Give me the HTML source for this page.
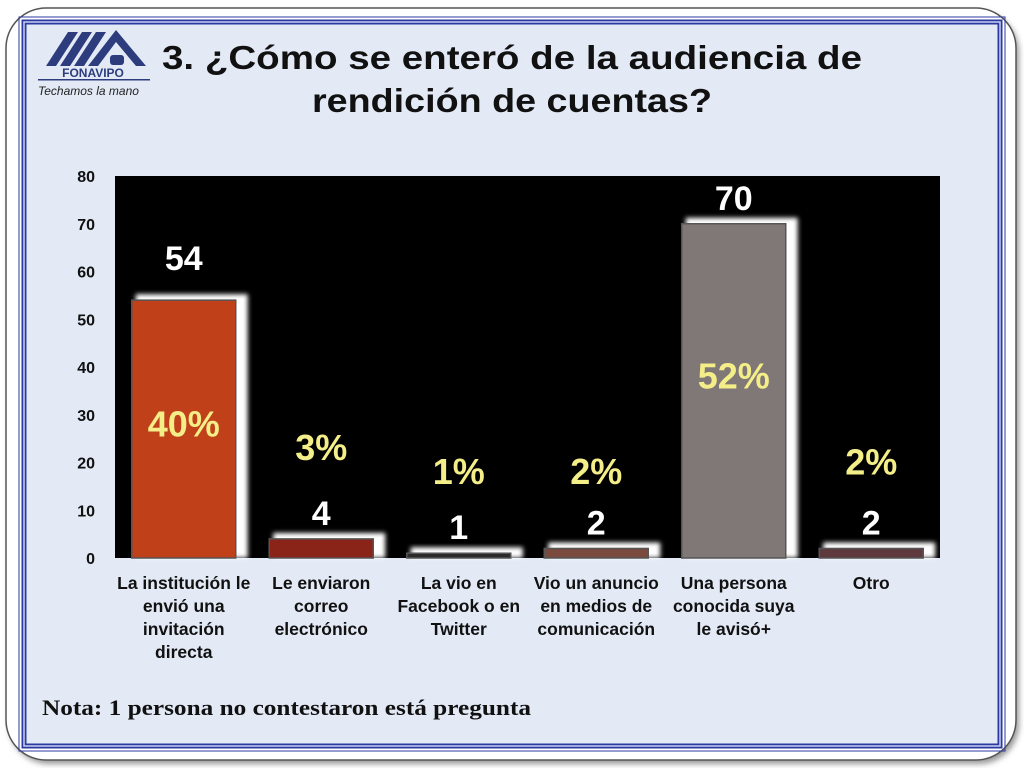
<!DOCTYPE html>
<html><head><meta charset="utf-8"><style>
body{margin:0;width:1024px;height:768px;background:#fff;overflow:hidden;font-family:"Liberation Sans",sans-serif}
</style></head><body>
<svg id="s" width="1024" height="768" xmlns="http://www.w3.org/2000/svg">
<defs>
<filter id="glow" x="-30%" y="-30%" width="160%" height="160%"><feGaussianBlur stdDeviation="2.5"/></filter>
<filter id="sh" x="-5%" y="-5%" width="110%" height="110%"><feGaussianBlur stdDeviation="3"/></filter>
</defs>
<rect x="9" y="12" width="1010" height="752" rx="40" fill="#999" filter="url(#sh)"/>
<rect x="6" y="8" width="1010" height="752" rx="40" fill="#fff" stroke="#555" stroke-width="1.5"/>
<rect x="24" y="22" width="976" height="724" fill="#e3eaf6" stroke="#2a3aa0" stroke-width="5"/>
<rect x="24" y="22" width="976" height="724" fill="none" stroke="#c8d0f0" stroke-width="1.5"/>
<rect x="19" y="17" width="986" height="734" fill="none" stroke="#2a3aa0" stroke-width="1"/>
<g>
<path d="M46 66 L68 32 L78 32 L56 66Z M60 66 L82 32 L92 32 L70 66Z M74 66 L96 32 L106 32 L84 66Z" fill="#2c3c7c"/>
<path d="M88 66 L116 30 L146 66 L136 66 L116 42 L98 66Z" fill="#2c3c7c"/>
<rect x="110" y="55" width="14" height="10" rx="3" fill="#2c3c7c"/>
<text x="93" y="77" font-size="12" font-weight="bold" fill="#2c3c7c" text-anchor="middle">FONAVIPO</text>
<rect x="38" y="79" width="112" height="1.5" fill="#2c3c7c"/>
<text x="38" y="95" font-size="12" font-style="italic" fill="#222">Techamos la mano</text>
</g>
<text x="162" y="69" font-size="33" font-weight="bold" fill="#111" textLength="700" lengthAdjust="spacingAndGlyphs">3. ¿Cómo se enteró de la audiencia de</text>
<text x="312" y="112" font-size="33" font-weight="bold" fill="#111" textLength="400" lengthAdjust="spacingAndGlyphs">rendición de cuentas?</text>
<rect x="115" y="176" width="825" height="382" fill="#000"/>
<g id="yaxis"></g>
<g id="bars"></g>
<g id="xaxis"></g>
<text x="42" y="715" font-family="Liberation Serif,serif" font-size="22" font-weight="bold" fill="#111" textLength="489" lengthAdjust="spacingAndGlyphs">Nota: 1 persona no contestaron está pregunta</text>
</svg>
<script>
const categories=[["La institución le","envió una","invitación","directa"],["Le enviaron","correo","electrónico"],["La vio en","Facebook o en","Twitter"],["Vio un anuncio","en medios de","comunicación"],["Una persona","conocida suya","le avisó+"],["Otro"]];
const values=[54,4,1,2,70,2];
const percents=["40%","3%","1%","2%","52%","2%"];
const pctPos=[28,23,18,18,38,20];
const colors=["#c0401a","#8a2418","#2a2a2a","#7a4a3e","#807777","#5e3a3e"];
const yTicks=[0,10,20,30,40,50,60,70,80];
const NS="http://www.w3.org/2000/svg";
const X0=115,W=825,Y0=558,H=382,YMAX=80;
const y=v=>Y0-v/YMAX*H;
const bw=W/values.length;
const xc=i=>X0+bw*(i+0.5);
function mk(t,a,p,txt){const e=document.createElementNS(NS,t);for(const k in a)e.setAttribute(k,a[k]);if(txt!==undefined)e.textContent=txt;p.appendChild(e);return e;}
const ya=document.getElementById('yaxis'),bg=document.getElementById('bars'),xa=document.getElementById('xaxis');
yTicks.forEach(t=>{const e=mk('text',{x:95,y:y(t)+6,'font-size':16,'font-weight':'bold','text-anchor':'end',fill:'#111'},ya,t);

});
values.forEach((v,i)=>{
const bx=xc(i)-52,top=y(v);
const g=mk('rect',{x:bx+4,y:top-6,width:112,height:Y0-top+6,fill:'#fff',filter:'url(#glow)'},bg);


const r=mk('rect',{x:bx,y:top,width:104,height:Y0-top,fill:colors[i],stroke:'#555',"stroke-width":1.5},bg);


const vl=mk('text',{x:xc(i),y:top-(v>40&&v<60?30:14),'font-size':34,'font-weight':'bold','text-anchor':'middle',fill:'#fff'},bg,v);


const pl=mk('text',{x:xc(i),y:y(pctPos[i])+12,'font-size':36,'font-weight':'bold','text-anchor':'middle',fill:'#f4ee88'},bg,percents[i]);


categories[i].forEach((ln,j)=>{const t=mk('text',{x:xc(i),y:589+j*23,'font-size':17.5,'font-weight':'bold','text-anchor':'middle',fill:'#111'},xa,ln);

});
});
</script>
</body></html>
